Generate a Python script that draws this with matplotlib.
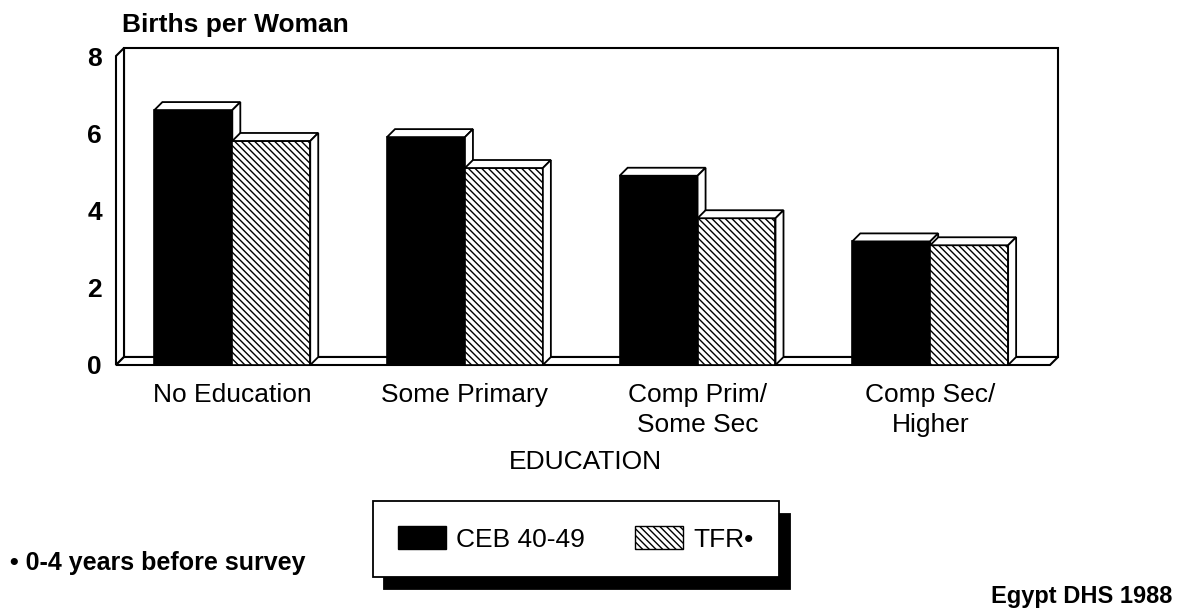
import matplotlib
matplotlib.use("Agg")
import matplotlib.pyplot as plt
import numpy as np
from matplotlib.patches import Patch, Polygon

plt.rcParams["font.family"] = ["Liberation Sans", "DejaVu Sans"]
plt.rcParams["hatch.linewidth"] = 1.0

# data
categories = ["No Education", "Some Primary", "Comp Prim/\nSome Sec", "Comp Sec/\nHigher"]
ceb_40_49 = [6.6, 5.9, 4.9, 3.2]
tfr = [5.8, 5.1, 3.8, 3.1]
yticks = [0, 2, 4, 6, 8]

W_PX, H_PX = 1177, 608
HATCH = "\\" * 5

fig = plt.figure(figsize=(W_PX / 100, H_PX / 100), dpi=100)
# front face of the plot box in pixels: x 116..1050, y(0)=365, y(8)=56
ax = fig.add_axes([116 / W_PX, 1 - 365 / H_PX, 934 / W_PX, 309 / H_PX])
xl, xr = -0.5, 3.515
ax.set_xlim(xl, xr)
ax.set_ylim(0, 8)

# 3-D depth offset (about 8 px right and up)
dx = 8 / (934 / (xr - xl))
dy = 8 / (309 / 8)
bw = 0.335

def box3d(x0, x1, h, face, hatch=None):
    ax.add_patch(plt.Rectangle((x0, 0), x1 - x0, h, facecolor=face, edgecolor="black",
                               hatch=hatch, lw=1.2, zorder=3))
    ax.add_patch(Polygon([(x0, h), (x1, h), (x1 + dx, h + dy), (x0 + dx, h + dy)],
                         closed=True, facecolor="white", edgecolor="black", lw=1.3, zorder=3))
    ax.add_patch(Polygon([(x1, 0), (x1, h), (x1 + dx, h + dy), (x1 + dx, dy)],
                         closed=True, facecolor="white", edgecolor="black", lw=1.3, zorder=3))

# back wall, left wall and floor
wall = dict(closed=True, facecolor="white", edgecolor="black", lw=1.5, zorder=1, clip_on=False)
ax.add_patch(Polygon([(xl + dx, dy), (xr + dx, dy), (xr + dx, 8 + dy), (xl + dx, 8 + dy)], **wall))
ax.add_patch(Polygon([(xl, 0), (xl, 8), (xl + dx, 8 + dy), (xl + dx, dy)], **wall))
ax.add_patch(Polygon([(xl, 0), (xr, 0), (xr + dx, dy), (xl + dx, dy)], **wall))

x = np.arange(len(categories))
for i in range(len(categories)):
    box3d(x[i] - bw, x[i], ceb_40_49[i], "black")
    box3d(x[i], x[i] + bw, tfr[i], "white", HATCH)

for s in ax.spines.values():
    s.set_visible(False)
ax.patch.set_visible(False)
ax.set_yticks(yticks)
ax.set_yticklabels([str(t) for t in yticks], fontsize=19, fontweight="bold")
ax.set_xticks(x)
ax.set_xticklabels(categories, fontsize=19, linespacing=1.3)
ax.tick_params(length=0)
ax.tick_params(axis="y", pad=10)
ax.tick_params(axis="x", pad=13)

fig.text(122 / W_PX, 1 - 25 / H_PX, "Births per Woman", fontsize=19, fontweight="bold",
         ha="left", va="center")
fig.text(585 / W_PX, 1 - 462 / H_PX, "EDUCATION", fontsize=19, ha="center", va="center")
fig.text(10 / W_PX, 1 - 563 / H_PX, "\u2022 0-4 years before survey", fontsize=18,
         fontweight="bold", ha="left", va="center")
fig.text(1172 / W_PX, 1 - 597 / H_PX, "Egypt DHS 1988", fontsize=17, fontweight="bold",
         ha="right", va="center")

handles = [Patch(facecolor="black", edgecolor="black", label="CEB 40-49"),
           Patch(facecolor="white", edgecolor="black", hatch=HATCH, label="TFR\u2022")]
leg = ax.legend(handles=handles, loc="center", ncol=2,
                bbox_to_anchor=(576 / W_PX, 1 - 539 / H_PX), bbox_transform=fig.transFigure,
                fontsize=19, frameon=True, fancybox=False, framealpha=1,
                edgecolor="black", handlelength=1.8, handleheight=0.95,
                handletextpad=0.4, columnspacing=1.9, borderpad=0.95,
                shadow={"color": "black", "alpha": 1, "ox": 8, "oy": -9})
leg.get_frame().set_linewidth(1.3)

fig.savefig("out.png", dpi=100)
